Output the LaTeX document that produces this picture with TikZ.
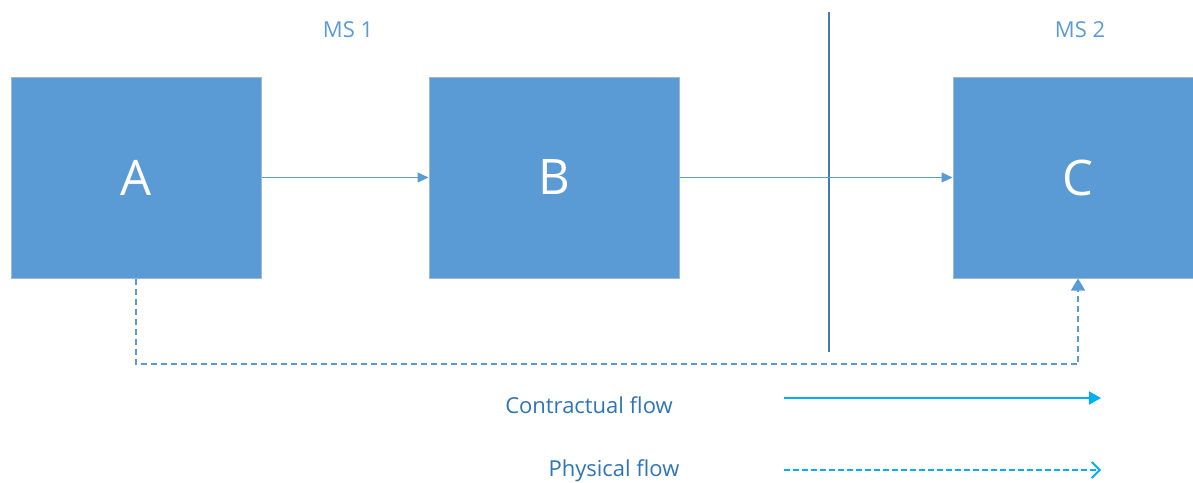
\documentclass[tikz,border=0pt]{standalone}
\usepackage{fontspec}
\setmainfont{Open Sans}
\usetikzlibrary{arrows.meta}
\definecolor{boxblue}{RGB}{91,155,213}
\definecolor{boxedge}{RGB}{160,185,210}
\definecolor{txtblue}{RGB}{46,117,182}
\definecolor{cyanline}{RGB}{0,176,240}
\definecolor{vline}{RGB}{70,120,180}
\tikzset{
  blk/.style={fill=boxblue, draw=boxedge, line width=1pt, minimum width=250pt, minimum height=201pt, inner sep=0pt, text=white, font=\fontsize{49}{52}\selectfont},
  mslabel/.style={text=boxblue, font=\fontsize{22}{26}\selectfont},
  legtext/.style={text=txtblue, font=\fontsize{22}{26}\selectfont},
  conn/.style={draw=boxblue, line width=1.2pt, -{Triangle[length=11pt,width=10pt]}},
  phys/.style={draw=boxblue, line width=1.6pt, dash pattern=on 6pt off 4pt, -{Triangle[length=12pt,width=14pt]}},
  legc/.style={draw=cyanline, line width=2pt, -{Triangle[length=12pt,width=13pt]}},
  legp/.style={draw=cyanline, line width=1.8pt, dash pattern=on 6pt off 3pt, -{Straight Barb[length=8pt,width=16pt,line width=1.8pt]}},
}
\begin{document}
\begin{tikzpicture}[x=1pt,y=-1pt]
\useasboundingbox (0,0) rectangle (1193,482);
\clip (0,0) rectangle (1193,482);
\node[blk] (A) at (136,177.5) {A};
\node[blk] (B) at (554,177.5) {B};
\node[blk] (C) at (1078,177.5) {C};
\node[mslabel] (ms1) at (348,30) {MS 1};
\node[mslabel] (ms2) at (1080,30) {MS 2};
\coordinate (vt) at (829,12);
\coordinate (vb) at (829,352);
\draw[vline, line width=1.2pt] (vt) -- (vb);
\draw[conn] (A.east) -- (B.west);
\draw[conn] (B.east) -- (C.west);
\coordinate (pa) at (136,364);
\coordinate (pc) at (1078,364);
\draw[phys] (A.south) -- (pa) -- (pc) -- (C.south);
\node[legtext] (lc) at (589,405) {Contractual flow};
\node[legtext] (lp) at (614,471) {Physical flow};
\coordinate (lc1) at (784,398);
\coordinate (lc2) at (1101,398);
\coordinate (lp1) at (784,470);
\coordinate (lp2) at (1101,470);
\draw[legc] (lc1) -- (lc2);
\draw[legp] (lp1) -- (lp2);
\end{tikzpicture}
\end{document}
